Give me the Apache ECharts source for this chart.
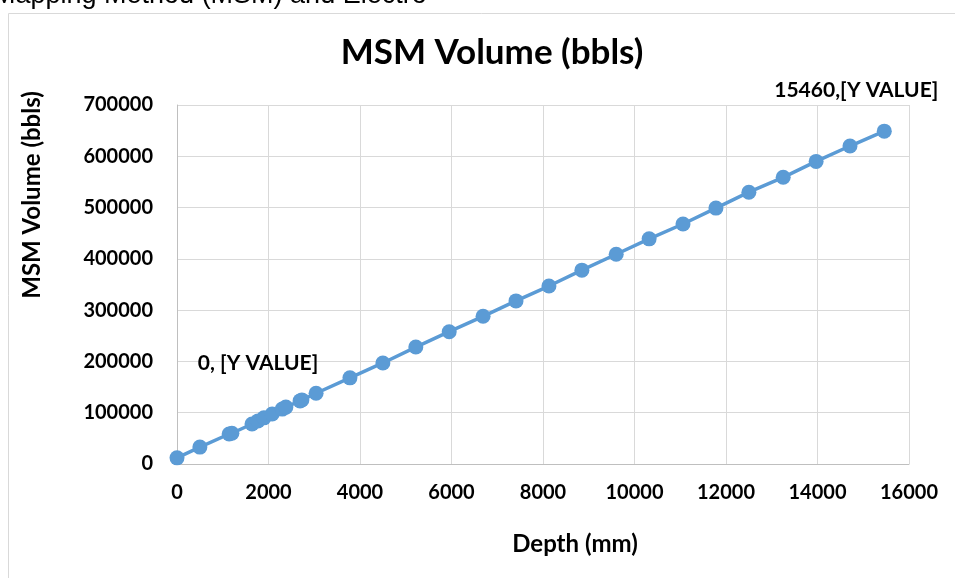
<!DOCTYPE html>
<html>
<head>
<meta charset="utf-8">
<script src="https://cdn.jsdelivr.net/npm/echarts@6/dist/echarts.min.js"></script>
<style>
  html, body { margin: 0; padding: 0; background: #fff; }
  #chart { width: 955px; height: 578px; }
</style>
</head>
<body>
<div id="chart"></div>
<script>
var depth = [0, 500, 1140, 1200, 1640, 1770, 1900, 2080, 2300, 2380, 2690, 2730, 3040,
  3780, 4500, 5220, 5950, 6690, 7410, 8130, 8850, 9600, 10320, 11060, 11780, 12500,
  13250, 13970, 14710, 15460];
var volume = [12000, 33000, 58500, 60000, 78000, 84000, 90000, 97500, 107000, 111000,
  123000, 125000, 138000, 168000, 197000, 228000, 258000, 288000, 318000, 347000,
  378000, 409000, 439000, 468000, 499000, 530000, 559000, 590000, 620000, 649000];

var myChart = echarts.init(document.getElementById('chart'));
var font = 'Lato, "Open Sans", sans-serif';

var pts = [];
for (var i = 0; i < depth.length; i++) {
  var p = { value: [depth[i], volume[i]] };
  if (i == 0) {
    p.label = { show: true, position: 'inside', offset: [81, -95], formatter: '0, [Y VALUE]' };
  }
  if (i == depth.length - 1) {
    p.label = { show: true, position: 'inside', offset: [-28, -41], formatter: '15460,[Y VALUE]' };
  }
  pts.push(p);
}

var option = {
  animation: false,
  title: {
    text: 'MSM Volume (bbls)',
    left: 487,
    top: 30,
    textAlign: 'center',
    textStyle: { fontFamily: font, fontSize: 35, fontWeight: 'bold', color: '#000' }
  },
  grid: { left: 177, right: 46, top: 105, bottom: 114 },
  xAxis: {
    type: 'value',
    min: 0, max: 16000, interval: 2000,
    axisLine: { lineStyle: { color: '#bfbfbf', width: 1 } },
    axisTick: { show: false },
    axisLabel: { fontFamily: font, fontSize: 20, fontWeight: 'bold', color: '#000', margin: 19,
      formatter: function (v) { return String(v); } },
    splitLine: { lineStyle: { color: '#d9d9d9', width: 1 } }
  },
  yAxis: {
    type: 'value',
    min: 0, max: 700000, interval: 100000,
    axisLine: { show: true, lineStyle: { color: '#bfbfbf', width: 1 } },
    axisTick: { show: false },
    axisLabel: { fontFamily: font, fontSize: 20, fontWeight: 'bold', color: '#000', margin: 24,
      formatter: function (v) { return String(v); } },
    splitLine: { lineStyle: { color: '#d9d9d9', width: 1 } }
  },
  graphic: [
    { type: 'text', x: -7, y: 9,
      style: { text: 'Mapping Method (MSM) and Electro', fontFamily: 'Liberation Sans, Arial', fontSize: 27, fill: '#000',
        verticalAlign: 'bottom' } },
    { type: 'polyline', shape: { points: [[8.5, 578], [8.5, 13.5], [955, 13.5]] },
      style: { stroke: '#d9d9d9', fill: null, lineWidth: 1 } },
    { type: 'text', x: 32, y: 195, rotation: Math.PI / 2,
      style: { text: 'MSM Volume (bbls)', fontFamily: font, fontSize: 24, fontWeight: 'bold', fill: '#000',
        align: 'center', verticalAlign: 'middle' } },
    { type: 'text', x: 575, y: 544,
      style: { text: 'Depth (mm)', fontFamily: font, fontSize: 24, fontWeight: 'bold', fill: '#000',
        align: 'center', verticalAlign: 'middle' } }
  ],
  series: [{
    type: 'line',
    data: pts,
    symbol: 'circle',
    symbolSize: 15,
    color: '#5b9bd5',
    lineStyle: { width: 3.5, color: '#5b9bd5' },
    itemStyle: { color: '#5b9bd5' },
    label: { fontFamily: font, fontSize: 21, fontWeight: 'bold', color: '#000' }
  }]
};
myChart.setOption(option);
</script>
</body>
</html>
